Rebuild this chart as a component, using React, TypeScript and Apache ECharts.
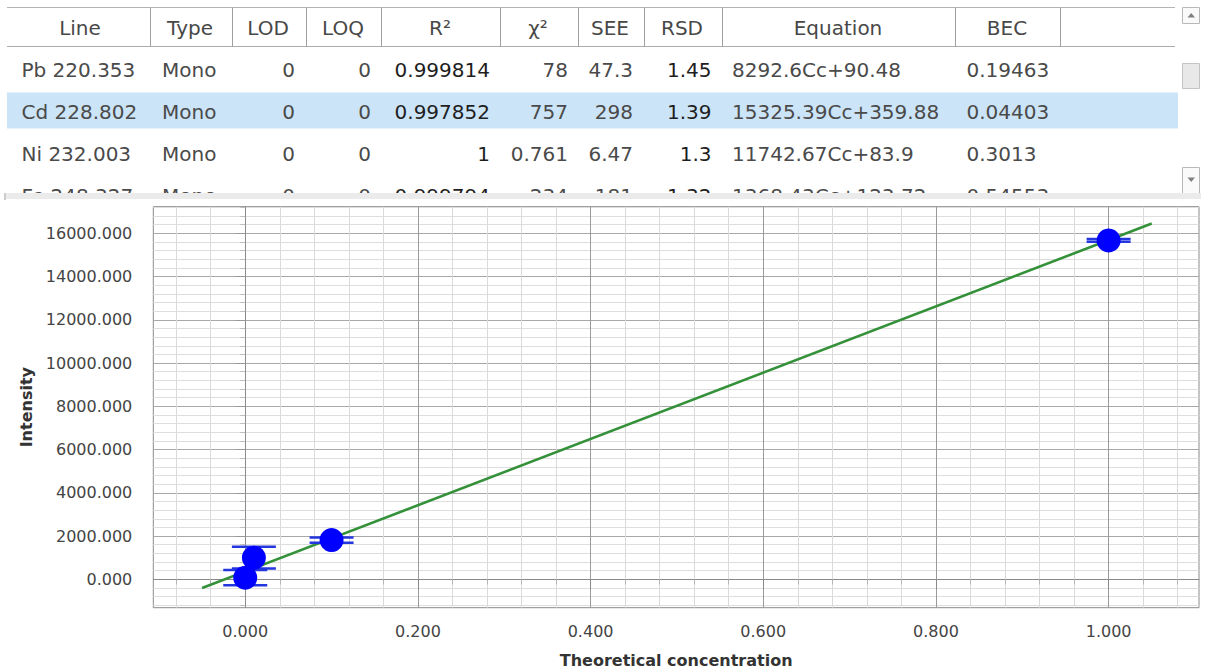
import React, { useEffect, useRef } from 'react';
import * as echarts from 'echarts';

// ---------- table data ----------
const tableHeaders = ['Line', 'Type', 'LOD', 'LOQ', 'R²', 'χ²', 'SEE', 'RSD', 'Equation', 'BEC'];
const lineNames = ['Pb 220.353', 'Cd 228.802', 'Ni 232.003', 'Fe 248.327'];
const lineTypes = ['Mono', 'Mono', 'Mono', 'Mono'];
const lodValues = ['0', '0', '0', '0'];
const loqValues = ['0', '0', '0', '0'];
const r2Values = ['0.999814', '0.997852', '1', '0.999794'];
const chi2Values = ['78', '757', '0.761', '234'];
const seeValues = ['47.3', '298', '6.47', '181'];
const rsdValues = ['1.45', '1.39', '1.3', '1.32'];
const equations = ['8292.6Cc+90.48', '15325.39Cc+359.88', '11742.67Cc+83.9', '1368.43Cc+123.72'];
const becValues = ['0.19463', '0.04403', '0.3013', '0.54553'];

// ---------- chart data ----------
const xConc = [0, 0.01, 0.1, 1.0];
const yIntensity = [75, 1000, 1815, 15672];
const yError = [355, 500, 120, 60];
const fitX = [-0.05, 1.05];
const fitY = [-406, 16452];
const xTickValues = [0, 0.2, 0.4, 0.6, 0.8, 1.0];
const yTickValues = [0, 2000, 4000, 6000, 8000, 10000, 12000, 14000, 16000];
const xMinorTickValues = [-0.08, -0.04, 0.04, 0.08, 0.12, 0.16, 0.24, 0.28, 0.32, 0.36, 0.44, 0.48, 0.52, 0.56, 0.64, 0.68, 0.72, 0.76, 0.84, 0.88, 0.92, 0.96, 1.04, 1.08];
const yMinorTickValues: number[] = [];
for (let v = -1200; v <= 17200; v += 400) {
  if (v % 2000 !== 0) yMinorTickValues.push(v);
}

const FONT = 'DejaVu Sans';
const X_MIN = -0.1065;
const X_MAX = 1.1047;
const Y_MIN = -1313;
const Y_MAX = 17230;

export default function App() {
  const tableRef = useRef<HTMLDivElement>(null);
  const chartRef = useRef<HTMLDivElement>(null);

  useEffect(() => {
    document.body.style.margin = '0';
    const t = echarts.init(tableRef.current!, null, { renderer: 'svg' });
    const c = echarts.init(chartRef.current!, null, { renderer: 'svg' });

    // ---------- table ----------
    const separators = [150.5, 232.5, 306.5, 381.5, 500.5, 578.5, 644.5, 722.5, 955.5, 1060.5];
    const headerCenters = [80, 190, 268, 343, 440, 538, 610, 682, 838, 1007];
    const columns: { values: string[]; x: number; align: string; color: string }[] = [
      { values: lineNames, x: 21.5, align: 'left', color: '#4a4a4a' },
      { values: lineTypes, x: 162, align: 'left', color: '#4a4a4a' },
      { values: lodValues, x: 295, align: 'right', color: '#4a4a4a' },
      { values: loqValues, x: 371, align: 'right', color: '#4a4a4a' },
      { values: r2Values, x: 490, align: 'right', color: '#1e1e1e' },
      { values: chi2Values, x: 568, align: 'right', color: '#4a4a4a' },
      { values: seeValues, x: 633, align: 'right', color: '#4a4a4a' },
      { values: rsdValues, x: 711.5, align: 'right', color: '#1e1e1e' },
      { values: equations, x: 732, align: 'left', color: '#4a4a4a' },
      { values: becValues, x: 966.5, align: 'left', color: '#4a4a4a' },
    ];
    const rowY = [70, 111.5, 153.5, 195.5];

    const els: any[] = [];
    els.push({ type: 'rect', shape: { x: 7, y: 92.5, width: 1171, height: 36 }, style: { fill: '#cce4f7' }, z: 0 });
    els.push({ type: 'line', shape: { x1: 7, y1: 7.5, x2: 1175, y2: 7.5 }, style: { stroke: '#b4b4b4', lineWidth: 1 }, z: 1 });
    els.push({ type: 'line', shape: { x1: 7, y1: 46.5, x2: 1175, y2: 46.5 }, style: { stroke: '#acacac', lineWidth: 1 }, z: 1 });
    separators.forEach((sx) => {
      els.push({ type: 'line', shape: { x1: sx, y1: 7.5, x2: sx, y2: 46.5 }, style: { stroke: '#a0a0a0', lineWidth: 1 }, z: 1 });
    });
    tableHeaders.forEach((h, i) => {
      els.push({
        type: 'text', x: headerCenters[i], y: 28, z: 2,
        style: { text: h, fill: '#484848', fontFamily: FONT, fontSize: 20, align: 'center', verticalAlign: 'middle' },
      });
    });
    columns.forEach((col) => {
      col.values.forEach((v, r) => {
        els.push({
          type: 'text', x: col.x, y: rowY[r], z: 2,
          style: { text: v, fill: col.color, fontFamily: FONT, fontSize: 20, align: col.align, verticalAlign: 'middle' },
        });
      });
    });
    // scrollbar
    els.push({ type: 'rect', shape: { x: 1182.5, y: 7.5, width: 17, height: 16 }, style: { fill: '#fafafa', stroke: '#b8b8b8', lineWidth: 1 }, z: 1 });
    els.push({ type: 'polygon', shape: { points: [[1187.5, 17.5], [1195, 17.5], [1191.2, 13]] }, style: { fill: '#808080' }, z: 2 });
    els.push({ type: 'rect', shape: { x: 1182.5, y: 63.5, width: 17, height: 25 }, style: { fill: '#e8e8e8', stroke: '#c4c4c4', lineWidth: 1 }, z: 1 });
    els.push({ type: 'rect', shape: { x: 1182.5, y: 167.5, width: 17, height: 26 }, style: { fill: '#fafafa', stroke: '#b8b8b8', lineWidth: 1 }, z: 1 });
    els.push({ type: 'polygon', shape: { points: [[1187.5, 177.5], [1195, 177.5], [1191.2, 182]] }, style: { fill: '#808080' }, z: 2 });

    t.setOption({ animation: false, graphic: { elements: els } });

    // ---------- chart ----------
    const labelFmt = (v: number) => Number(v).toFixed(3);
    c.setOption({
      animation: false,
      graphic: {
        elements: [
          { type: 'rect', shape: { x: 6, y: 0, width: 1195, height: 6 }, style: { fill: '#ebebeb' } },
          { type: 'line', shape: { x1: 5, y1: 0, x2: 5, y2: 7 }, style: { stroke: '#999', lineWidth: 1 } },
        ],
      },
      grid: {
        left: 153.3, right: 10, top: 13.7, bottom: 62.3,
        show: true, borderColor: '#8a8a8a', borderWidth: 1,
        outerBoundsMode: 'none',
      },
      xAxis: [
        {
          type: 'value', min: X_MIN, max: X_MAX, position: 'bottom',
          name: 'Theoretical concentration', nameLocation: 'middle', nameGap: 45,
          nameTextStyle: { fontFamily: FONT, fontWeight: 'bold', fontSize: 16, color: '#333' },
          axisLine: { show: true, lineStyle: { color: '#8a8a8a' } },
          axisTick: { show: true, customValues: xTickValues, length: 10, lineStyle: { color: '#8a8a8a' } },
          axisLabel: { customValues: xTickValues, formatter: labelFmt, fontFamily: FONT, fontSize: 16, color: '#444', margin: 16 },
          splitLine: { show: true, lineStyle: { color: '#9a9a9a', width: 1 } },
        },
        {
          type: 'value', min: X_MIN, max: X_MAX, position: 'bottom',
          axisLine: { show: false },
          axisLabel: { show: false, customValues: xMinorTickValues },
          axisTick: { show: true, customValues: xMinorTickValues, length: 5, lineStyle: { color: '#b4b4b4' } },
          splitLine: { show: true, lineStyle: { color: '#dadada', width: 1 } },
        },
      ],
      yAxis: [
        {
          type: 'value', min: Y_MIN, max: Y_MAX, position: 'left',
          name: 'Intensity', nameLocation: 'middle', nameGap: 109,
          nameTextStyle: { fontFamily: FONT, fontWeight: 'bold', fontSize: 16, color: '#333' },
          axisLine: { show: true, lineStyle: { color: '#8a8a8a' } },
          axisTick: { show: true, customValues: yTickValues, length: 10, lineStyle: { color: '#9a9a9a' } },
          axisLabel: { customValues: yTickValues, formatter: labelFmt, fontFamily: FONT, fontSize: 16, color: '#444', margin: 21 },
          splitLine: { show: true, lineStyle: { color: '#a8a8a8', width: 1 } },
        },
        {
          type: 'value', min: Y_MIN, max: Y_MAX, position: 'left',
          axisLine: { show: false },
          axisLabel: { show: false, customValues: yMinorTickValues },
          axisTick: { show: true, customValues: yMinorTickValues, length: 5, lineStyle: { color: '#bdbdbd' } },
          splitLine: { show: true, lineStyle: { color: '#dedede', width: 1 } },
        },
      ],
      series: [
        {
          type: 'line', xAxisIndex: 0, yAxisIndex: 0, z: 2,
          data: fitX.map((x, i) => [x, fitY[i]]),
          symbol: 'none', showSymbol: false,
          lineStyle: { color: '#34913a', width: 2.6 },
        },
        {
          type: 'custom', xAxisIndex: 0, yAxisIndex: 0, z: 3,
          data: xConc.map((x, i) => [x, yIntensity[i] - yError[i], yIntensity[i] + yError[i]]),
          encode: { x: 0, y: [1, 2] },
          renderItem: (params: any, api: any) => {
            const x = api.value(0);
            const lo = api.coord([x, api.value(1)]);
            const hi = api.coord([x, api.value(2)]);
            const hw = 22;
            const style = { stroke: '#2436de', lineWidth: 2.5 };
            return {
              type: 'group',
              children: [
                { type: 'line', shape: { x1: lo[0], y1: lo[1], x2: hi[0], y2: hi[1] }, style },
                { type: 'line', shape: { x1: lo[0] - hw, y1: lo[1], x2: lo[0] + hw, y2: lo[1] }, style },
                { type: 'line', shape: { x1: hi[0] - hw, y1: hi[1], x2: hi[0] + hw, y2: hi[1] }, style },
              ],
            };
          },
        },
        {
          type: 'scatter', xAxisIndex: 0, yAxisIndex: 0, z: 4,
          data: xConc.map((x, i) => [x, yIntensity[i]]),
          symbol: 'circle', symbolSize: 24,
          itemStyle: { color: '#0000ff', opacity: 1 },
        },
      ],
    });

    return () => {
      t.dispose();
      c.dispose();
    };
  }, []);

  return (
    <div style={{ position: 'absolute', left: 0, top: 0, width: 1209, height: 670, background: '#ffffff' }}>
      <div ref={tableRef} style={{ position: 'absolute', left: 0, top: 0, width: 1209, height: 193 }} />
      <div ref={chartRef} style={{ position: 'absolute', left: 0, top: 193, width: 1209, height: 477 }} />
    </div>
  );
}
